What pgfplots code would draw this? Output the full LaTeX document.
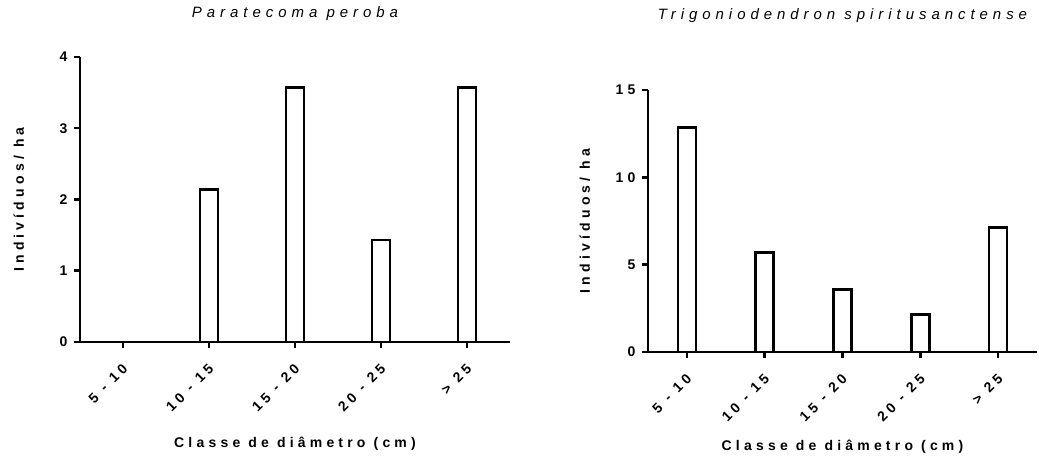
\documentclass[border=0pt]{standalone}
\usepackage{fontspec}
\setmainfont{Liberation Sans}
\newfontfamily\lab[LetterSpace=30]{Liberation Sans}
\newfontfamily\tit[LetterSpace=33]{Liberation Sans}
\usepackage{pgfplots}
\pgfplotsset{compat=1.18}
\pgfplotsset{
  gp/.style={
    scale only axis,
    clip=false,
    axis x line*=bottom,
    axis y line*=left,
    axis line style={line width=2.5pt,-},
    major tick style={line width=2.5pt,black},
    minor tick num=0,
    major tick length=6pt,
    tick align=outside,
    xmin=-0.5, xmax=4.5, ymin=0,
    xtick={0,1,2,3,4},
    xticklabels={5 - 10,10 - 15,15 - 20,20 - 25,> 25},
    /pgf/number format/assume math mode=true,
    ticklabel style={font=\lab\bfseries\fontsize{14}{14}\selectfont},
    xticklabel style={rotate=45,anchor=north east,xshift=-8pt,yshift=-6pt},
    yticklabel style={xshift=-3pt},
    xlabel={Classe de diâmetro (cm)},
    ylabel={Indivíduos/ ha},
    label style={font=\lab\bfseries\fontsize{14}{14}\selectfont},
    title style={font=\tit\itshape\fontsize{15}{15}\selectfont,anchor=center},
    ybar, bar width=18pt,
  }
}
\begin{document}
\begin{tikzpicture}
\path[use as bounding box] (0,0) rectangle (1039pt,457pt);
\begin{axis}[gp,
  at={(80pt,115pt)}, anchor=south west,
  width=430pt, height=285pt,
  ymax=4, ytick={0,1,2,3,4},
  title={Paratecoma peroba},
  title style={at={(0.5,1)},yshift=37pt},
  xlabel style={at={(axis description cs:0.5,0)},anchor=center,yshift=-102pt},
  ylabel style={at={(axis description cs:-0.142,0.5)},anchor=center},
]
\addplot[draw=black,fill=white,line width=2.5pt] coordinates {(0,0) (1,2.14) (2,3.57) (3,1.43) (4,3.57)};
\end{axis}
\begin{axis}[gp,
  at={(648pt,105pt)}, anchor=south west,
  width=389pt, height=262pt,
  ymax=15, ytick={0,5,10,15},
  title={Trigoniodendron spiritusanctense},
  title style={at={(0.5,1)},yshift=68pt},
  xlabel style={at={(axis description cs:0.5,0)},anchor=center,yshift=-95pt},
  ylabel style={at={(axis description cs:-0.162,0.5)},anchor=center},
]
\addplot[draw=black,fill=white,line width=2.5pt] coordinates {(0,12.86) (1,5.71) (2,3.57) (3,2.14) (4,7.14)};
\end{axis}
\end{tikzpicture}
\end{document}
